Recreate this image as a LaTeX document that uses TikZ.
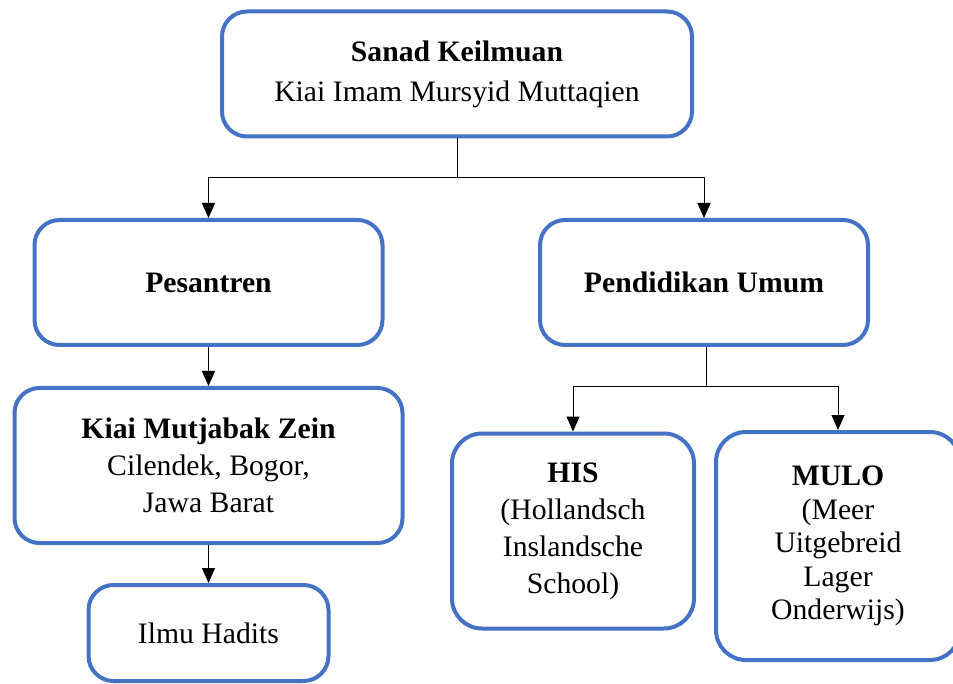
\documentclass[tikz,border=0pt]{standalone}
\usepackage{fontspec}
\setmainfont{Liberation Serif}
\usetikzlibrary{arrows.meta}
\definecolor{wordblue}{RGB}{68, 114, 196}

\begin{document}
\begin{tikzpicture}[x=1pt, y=-1pt,
    box/.style={draw=wordblue, line width=4pt, rounded corners=25pt, align=center,
                inner sep=0pt, font=\fontsize{29.7}{37}\selectfont},
    arr/.style={-{Triangle[length=15pt,width=13pt]}, line width=1pt}]
  \useasboundingbox (0,0) rectangle (953,684);
  \clip (0,0) rectangle (953,684);
  % boxes
  \node[box, minimum width=470, minimum height=125, font=\fontsize{29.7}{40}\selectfont] (sanad) at (457, 74) {\textbf{Sanad Keilmuan}\\Kiai Imam Mursyid Muttaqien};
  \node[box, minimum width=348, minimum height=125] (pesantren) at (208.5, 282.5) {\textbf{Pesantren}};
  \node[box, minimum width=328, minimum height=125] (umum)      at (704, 282.5) {\textbf{Pendidikan Umum}};
  \node[box, minimum width=388, minimum height=155] (mutjabak)  at (208.5, 465.5) {\textbf{Kiai Mutjabak Zein}\\Cilendek, Bogor,\\Jawa Barat};
  \node[box, minimum width=240, minimum height=96]  (hadits)    at (208.5, 633)   {Ilmu Hadits};
  \node[box, minimum width=242, minimum height=195, rounded corners=30pt] (his)  at (573, 531) {\textbf{HIS}\\(Hollandsch\\Inslandsche\\School)};
  \node[box, minimum width=244, minimum height=228, rounded corners=30pt, font=\fontsize{29.7}{33.5}\selectfont] (mulo) at (838, 546) {\textbf{MULO}\\(Meer\\Uitgebreid\\Lager\\Onderwijs)};
  % connectors
  \coordinate (fork1) at (457, 178);
  \coordinate (fork2) at (706, 387);
  \draw[line width=1pt] (sanad.south) -- (fork1);
  \draw[arr] (fork1) -| (pesantren.north);
  \draw[arr] (fork1) -| (umum.north);
  \draw[arr] (pesantren.south) -- (mutjabak.north);
  \draw[arr] (mutjabak.south) -- (hadits.north);
  \draw[line width=1pt] (umum.south -| fork2) -- (fork2);
  \draw[arr] (fork2) -| (his.north);
  \draw[arr] (fork2) -| (mulo.north);
\end{tikzpicture}
\end{document}
